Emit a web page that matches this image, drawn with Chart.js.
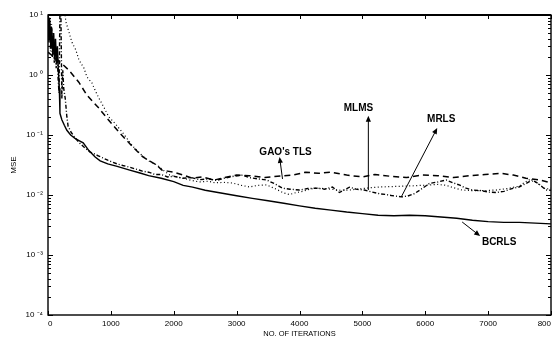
<!DOCTYPE html>
<html><head><meta charset="utf-8">
<script src="https://cdn.jsdelivr.net/npm/chart.js@4/dist/chart.umd.min.js"></script>
<style>html,body{margin:0;padding:0;background:#fff;}#wrap{width:555px;height:338px;}</style>
</head><body><div id="wrap"><canvas id="c" width="555" height="338"></canvas></div>
<script>
// ---- axis ticks ----
const xTickValues = [0,1000,2000,3000,4000,5000,6000,7000,8000];
const xTickLabels = ['0','1000','2000','3000','4000','5000','6000','7000','800'];
const yTickValues = [1e-4,1e-3,1e-2,1e-1,1,10];
const yTickLabels = ['10 \u207B\u2074','10 \u207B\u00B3','10 \u207B\u00B2','10 \u207B\u00B9','10 \u2070','10 \u00B9'];

// ---- BCRLS (solid) ----
const bcrlsIter = [0,15,30,45,60,75,90,105,120,135,150,165,180,190,220,260,300,360,430,500,560,650,750,830,950,1100,1300,1450,1600,1800,2000,2150,2300,2500,2750,3000,3250,3500,3750,4000,4250,4500,4750,5000,5250,5500,5750,6000,6250,6500,6750,7000,7250,7500,7750,8000];
const bcrlsMse  = [9,3.5,8,2.8,6,2.2,5,1.8,4,1.5,3,1.2,0.6,0.23,0.18,0.145,0.12,0.1,0.088,0.08,0.074,0.055,0.043,0.037,0.033,0.03,0.026,0.0235,0.021,0.019,0.0167,0.0145,0.0135,0.012,0.0108,0.0097,0.0088,0.008,0.0073,0.0066,0.006,0.0056,0.0052,0.0049,0.0046,0.0045,0.0046,0.0045,0.0043,0.0041,0.0038,0.0036,0.0035,0.0035,0.0034,0.0033];

// ---- GAO's TLS (dashed) ----
const gaoIter = [0,190,330,490,620,810,940,1140,1350,1510,1730,1810,1900,2000,2150,2300,2450,2650,2800,3000,3200,3450,3650,3900,4100,4300,4500,4750,5000,5200,5450,5700,5950,6200,6450,6700,6950,7200,7400,7600,7800,8000];
const gaoMse  = [2.4,1.65,1.21,0.76,0.46,0.28,0.19,0.108,0.063,0.043,0.0316,0.026,0.025,0.024,0.0215,0.019,0.02,0.0178,0.0195,0.0215,0.021,0.0195,0.0205,0.0215,0.024,0.023,0.024,0.0215,0.02,0.022,0.0205,0.0195,0.0215,0.021,0.0195,0.021,0.022,0.023,0.0215,0.019,0.018,0.016];

// ---- MLMS (dash-dot, noisy) ----
const mlmsIter = [0,10,25,40,55,70,85,100,115,130,145,160,175,190,205,220,235,250,275,300,320,370,430,500,580,670,800,950,1100,1190,1300,1400,1500,1600,1700,1800,1900,2000,2143,2280,2413,2550,2683,2800,2950,3095,3200,3350,3476,3600,3730,3850,4000,4130,4270,4400,4524,4635,4794,4900,5030,5150,5270,5370,5460,5620,5720,5825,5950,6063,6200,6333,6440,6540,6650,6746,6900,7000,7127,7250,7380,7492,7600,7698,7800,7921,8000];
const mlmsMse  = [10,4,9,2.5,7,2,5,1.6,4,1.3,3,0.9,0.5,12,12,0.4,1.2,0.6,0.4,0.2,0.14,0.11,0.09,0.074,0.062,0.052,0.045,0.038,0.033,0.031,0.029,0.027,0.025,0.024,0.022,0.022,0.02,0.0205,0.019,0.0195,0.018,0.0185,0.0175,0.019,0.0205,0.0215,0.0195,0.0185,0.0178,0.0155,0.013,0.0125,0.0121,0.0128,0.013,0.0125,0.0136,0.011,0.0135,0.0125,0.0121,0.0112,0.0105,0.0102,0.0098,0.0093,0.0096,0.0105,0.0128,0.0155,0.0165,0.0178,0.016,0.0147,0.013,0.0121,0.0118,0.0112,0.011,0.0115,0.0128,0.0136,0.0155,0.0178,0.0155,0.0121,0.012];

// ---- MRLS (dotted) ----
const mrlsIter = [200,270,286,333,381,444,492,571,619,698,762,810,889,968,1080,1190,1350,1500,1619,1700,1778,1850,1937,2050,2150,2280,2413,2550,2650,2800,2937,3070,3206,3340,3476,3560,3650,3750,3841,3950,4050,4160,4270,4400,4500,4650,4794,4900,5000,5150,5270,5450,5619,5850,6063,6200,6333,6450,6587,6750,6900,7127,7300,7492,7580,7651,7750,7850,7921,8000];
const mrlsMse  = [25,10,7.6,5.2,3.5,2.6,1.78,1.31,0.93,0.74,0.52,0.41,0.29,0.2,0.15,0.108,0.065,0.045,0.036,0.033,0.029,0.025,0.0215,0.02,0.019,0.0175,0.0165,0.017,0.016,0.0162,0.0158,0.0145,0.0136,0.0145,0.0147,0.0135,0.0122,0.0108,0.0102,0.011,0.0115,0.0125,0.013,0.0128,0.0125,0.012,0.0121,0.0125,0.0128,0.0133,0.0136,0.0138,0.014,0.0143,0.0147,0.015,0.0145,0.0132,0.0121,0.0118,0.0118,0.0121,0.0128,0.014,0.0162,0.0178,0.0165,0.014,0.0125,0.013];

// ---- annotations (data coordinates) ----
const notes = [
  {text:"GAO's TLS", lx:3778, ly:0.0521, tx:3730, ty:0.0185, hx:3683, hy:0.043},
  {text:"MLMS",      lx:4937, ly:0.282,  tx:5095, ty:0.0121, hx:5095, hy:0.21},
  {text:"MRLS",      lx:6254, ly:0.185,  tx:5619, ty:0.0093, hx:6190, hy:0.131},
  {text:"BCRLS",     lx:7175, ly:0.00165,tx:6587, ty:0.00355,hx:6873, hy:0.00207}
];

const toXY = (xs, ys) => xs.map((x,i)=>({x:x, y:ys[i]}));
const FONT = '"Liberation Sans", Arial, Helvetica, sans-serif';

const framePlugin = {
  id:'frame',
  afterDatasetsDraw(chart){
    const ctx = chart.ctx, a = chart.chartArea, xs = chart.scales.x, ys = chart.scales.y;
    ctx.save();
    ctx.strokeStyle = '#000'; ctx.fillStyle = '#000';
    // box
    ctx.lineWidth = 1.4;
    ctx.strokeRect(a.left, a.top, a.right - a.left, a.bottom - a.top);
    ctx.lineWidth = 2;
    ctx.beginPath(); ctx.moveTo(a.left, a.top); ctx.lineTo(a.right, a.top); ctx.stroke();
    // y ticks inward (log decades + minor)
    ctx.lineWidth = 1;
    for (let e = -4; e <= 1; e++) {
      for (let k = 1; k <= 9; k++) {
        const v = k * Math.pow(10, e);
        if (v > 10.0001) break;
        const py = Math.round(ys.getPixelForValue(v)) + 0.5;
        const len = k === 1 ? 5 : 3;
        ctx.beginPath();
        ctx.moveTo(a.left, py); ctx.lineTo(a.left + len, py);
        ctx.moveTo(a.right, py); ctx.lineTo(a.right - len, py);
        ctx.stroke();
      }
    }
    // x ticks inward
    xTickValues.forEach(v => {
      const px = Math.round(xs.getPixelForValue(v)) + 0.5;
      ctx.beginPath();
      ctx.moveTo(px, a.bottom); ctx.lineTo(px, a.bottom - 4);
      ctx.moveTo(px, a.top); ctx.lineTo(px, a.top + 4);
      ctx.stroke();
    });
    // annotations
    ctx.font = 'bold 10px ' + FONT;
    ctx.textAlign = 'center'; ctx.textBaseline = 'middle';
    notes.forEach(n => {
      ctx.fillText(n.text, xs.getPixelForValue(n.lx), ys.getPixelForValue(n.ly));
      const x1 = xs.getPixelForValue(n.tx), y1 = ys.getPixelForValue(n.ty);
      const x2 = xs.getPixelForValue(n.hx), y2 = ys.getPixelForValue(n.hy);
      const ang = Math.atan2(y2 - y1, x2 - x1);
      const L = 6, W = 2.6;
      ctx.lineWidth = 1;
      ctx.beginPath(); ctx.moveTo(x1, y1);
      ctx.lineTo(x2 - Math.cos(ang)*L*0.6, y2 - Math.sin(ang)*L*0.6); ctx.stroke();
      ctx.beginPath();
      ctx.moveTo(x2, y2);
      ctx.lineTo(x2 - Math.cos(ang)*L - Math.sin(ang)*W, y2 - Math.sin(ang)*L + Math.cos(ang)*W);
      ctx.lineTo(x2 - Math.cos(ang)*L + Math.sin(ang)*W, y2 - Math.sin(ang)*L - Math.cos(ang)*W);
      ctx.closePath(); ctx.fill();
    });
    ctx.restore();
  }
};

new Chart(document.getElementById('c'), {
  type:'line',
  data:{
    datasets:[
      {label:'BCRLS', data:toXY(bcrlsIter,bcrlsMse), borderColor:'#000', borderWidth:1.4},
      {label:"GAO's TLS", data:toXY(gaoIter,gaoMse), borderColor:'#000', borderWidth:1.5, borderDash:[6,4]},
      {label:'MLMS', data:toXY(mlmsIter,mlmsMse), borderColor:'#000', borderWidth:1.4, borderDash:[4,2,1,2]},
      {label:'MRLS', data:toXY(mrlsIter,mrlsMse), borderColor:'#000', borderWidth:1.2, borderDash:[1,2.5]}
    ]
  },
  options:{
    responsive:false, animation:false, devicePixelRatio:1,
    elements:{point:{radius:0}, line:{tension:0, fill:false}},
    layout:{padding:{top:15, right:3, left:0, bottom:0}},
    plugins:{legend:{display:false}, tooltip:{enabled:false}},
    scales:{
      x:{
        type:'linear', min:0, max:8000,
        afterBuildTicks: s => { s.ticks = xTickValues.map(v => ({value:v})); },
        ticks:{ callback:(v,i)=>xTickLabels[i], align:'inner', autoSkip:false, maxRotation:0,
                color:'#000', padding:4, font:{family:FONT, size:8} },
        grid:{display:false, drawTicks:false}, border:{display:false},
        title:{display:true, text:'NO. OF ITERATIONS', color:'#000', padding:{top:0,bottom:0},
               font:{family:FONT, size:7.5}},
        afterFit: s => { s.height = 23; }
      },
      y:{
        type:'logarithmic', min:1e-4, max:10,
        afterBuildTicks: s => { s.ticks = yTickValues.map(v => ({value:v})); },
        ticks:{ callback:(v,i)=>yTickLabels[i], autoSkip:false, color:'#000', padding:5,
                font:{family:FONT, size:8} },
        grid:{display:false, drawTicks:false}, border:{display:false},
        title:{display:true, text:'MSE', color:'#000', padding:{top:9,bottom:0},
               font:{family:FONT, size:8}},
        afterFit: s => { s.width = 48; }
      }
    }
  },
  plugins:[framePlugin]
});
</script></body></html>
